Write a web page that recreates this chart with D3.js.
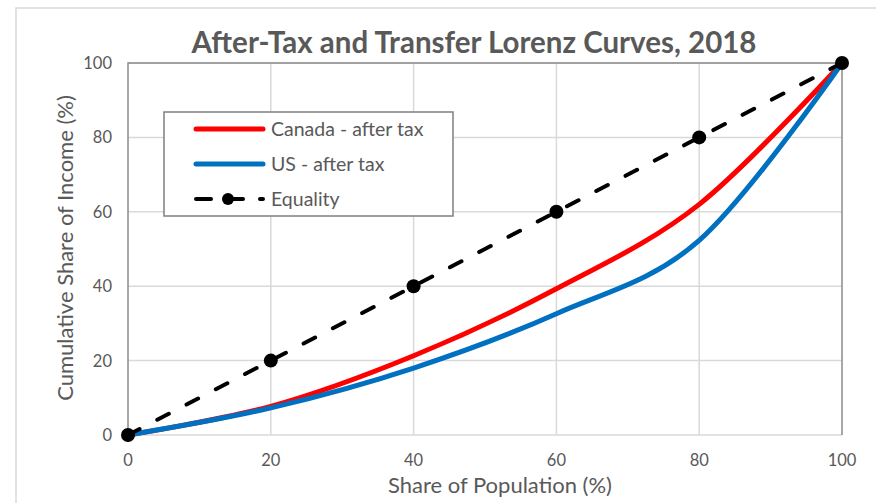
<!DOCTYPE html>
<html>
<head>
<script src='https://d3js.org/d3.v7.min.js'></script>
<style>
body {margin:0; background:#fff;}
text {font-family:Lato, 'Open Sans', sans-serif; fill:#595959;}
</style>
</head>
<body>
<svg width=876 height=503></svg>
<script>
// data: cumulative shares by quintile
var quintiles = [0,20,40,60,80,100]
var canada = [0,7.7,21.3,39.3,62,100]
var us = [0,7.3,18,32.6,52.3,100]
var equality = [0,20,40,60,80,100]
var xTicks = [0,20,40,60,80,100]
var yTicks = [0,20,40,60,80,100]

var pLeft = 128, pRight = 842, pTop = 63, pBottom = 435

var svg = d3.select('svg')

//outer chart border
svg.append('rect')
   .attr('x',16).attr('y',8)
   .attr('width',900).attr('height',520)
   .attr('fill','white')
   .attr('stroke','#d9d9d9')
   .attr('stroke-width',1.5)

var x = d3.scaleLinear().domain([0,100]).range([pLeft,pRight])
var y = d3.scaleLinear().domain([0,100]).range([pBottom,pTop])

//gridlines
svg.append('g').selectAll('line')
   .data(yTicks)
   .enter().append('line')
     .attr('x1',pLeft).attr('x2',pRight)
     .attr('y1',function(d) {return y(d);})
     .attr('y2',function(d) {return y(d);})
     .attr('stroke','#d9d9d9')
     .attr('stroke-width',1.5)
svg.append('g').selectAll('line')
   .data(xTicks.slice(1,5))
   .enter().append('line')
     .attr('y1',pTop).attr('y2',pBottom)
     .attr('x1',function(d) {return x(d);})
     .attr('x2',function(d) {return x(d);})
     .attr('stroke','#d9d9d9')
     .attr('stroke-width',1.5)

//plot area frame (left, top, right)
svg.append('path')
   .attr('d','M'+x(0)+','+y(0)+'V'+y(100)+'H'+x(100)+'V'+y(0))
   .attr('fill','none')
   .attr('stroke','#8c8c8c')
   .attr('stroke-width',1.5)

//tick labels
svg.append('g').selectAll('text')
   .data(yTicks)
   .enter().append('text')
     .attr('x',pLeft-16)
     .attr('y',function(d) {return y(d)+6;})
     .attr('text-anchor','end')
     .style('font-size','16.5px')
     .text(function(d) {return d;})
svg.append('g').selectAll('text')
   .data(xTicks)
   .enter().append('text')
     .attr('x',function(d) {return x(d);})
     .attr('y',pBottom+31)
     .attr('text-anchor','middle')
     .style('font-size','16.5px')
     .text(function(d) {return d;})

//axis titles
svg.append('text')
   .attr('text-anchor','middle')
   .attr('x',500)
   .attr('y',493)
   .style('font-size','22px')
   .text('Share of Population (%)')
svg.append('text')
   .attr('text-anchor','middle')
   .attr('transform','translate(73,248) rotate(-90)')
   .style('font-size','22px')
   .text('Cumulative Share of Income (%)')

//title
svg.append('text')
   .attr('text-anchor','middle')
   .attr('x',474)
   .attr('y',53)
   .style('font-size','29.5px')
   .style('font-weight','bold')
   .text('After-Tax and Transfer Lorenz Curves, 2018')

var line = d3.line()
   .x(function(d,i) {return x(quintiles[i]);})
   .y(function(d) {return y(d);})
   .curve(d3.curveCardinal.tension(0))

svg.append('path')
   .datum(canada)
   .attr('d',line)
   .attr('fill','none')
   .attr('stroke','#ff0000')
   .attr('stroke-width',5)
   .attr('stroke-linecap','round')
svg.append('path')
   .datum(us)
   .attr('d',line)
   .attr('fill','none')
   .attr('stroke','#0070c0')
   .attr('stroke-width',5)
   .attr('stroke-linecap','round')

//equality line
svg.append('path')
   .datum(equality)
   .attr('d',d3.line().x(function(d,i) {return x(quintiles[i]);}).y(function(d) {return y(d);}))
   .attr('fill','none')
   .attr('stroke','black')
   .attr('stroke-width',4)
   .attr('stroke-dasharray','13,20')
   .attr('stroke-linecap','round')
svg.append('g').selectAll('circle')
   .data(equality)
   .enter().append('circle')
     .attr('cx',function(d,i) {return x(quintiles[i]);})
     .attr('cy',function(d) {return y(d);})
     .attr('r',7)
     .attr('fill','black')

//legend
var legend = svg.append('g')
legend.append('rect')
   .attr('x',164).attr('y',112)
   .attr('width',289).attr('height',104)
   .attr('fill','white')
   .attr('stroke','#7f7f7f')
   .attr('stroke-width',1.5)
var items = [['Canada - after tax','#ff0000'],['US - after tax','#0070c0'],['Equality','black']]
items.forEach(function(it,i) {
   var ly = 129+i*35
   var l = legend.append('line')
      .attr('x1',196).attr('x2',263)
      .attr('y1',ly).attr('y2',ly)
      .attr('stroke',it[1])
      .attr('stroke-linecap','round')
   if (i<2) {
      l.attr('stroke-width',5)
   } else {
      l.attr('stroke-width',4).attr('stroke-dasharray','15,17')
      legend.append('circle').attr('cx',228).attr('cy',ly).attr('r',6).attr('fill','black')
   }
   legend.append('text')
      .attr('x',271)
      .attr('y',ly+7)
      .style('font-size','19.5px')
      .text(it[0])
})
</script>
</body>
</html>
